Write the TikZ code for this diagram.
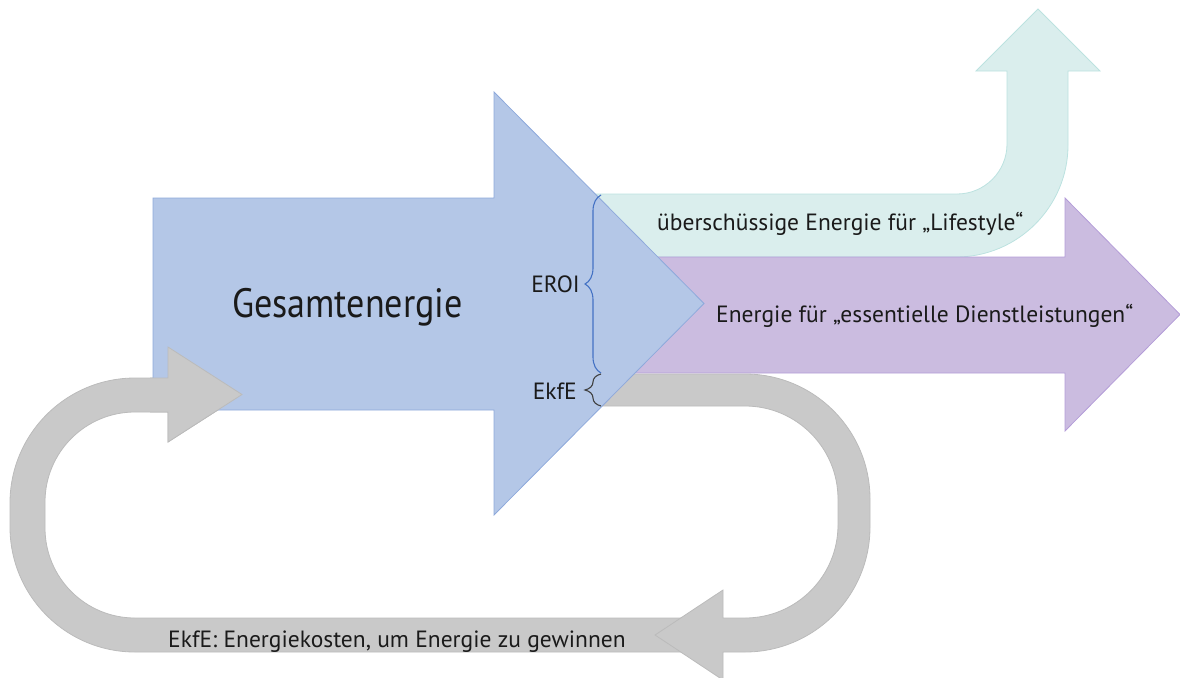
\documentclass[tikz,border=0pt]{standalone}
\usepackage{fontspec}
\setmainfont{PT Sans}
\newfontfamily\titlefont[FakeStretch=0.88]{PT Sans}
\usetikzlibrary{decorations.pathreplacing}
\definecolor{bluefill}{HTML}{B4C7E7}
\definecolor{bluedraw}{HTML}{8EA9DB}
\definecolor{tealfill}{HTML}{DAEEED}
\definecolor{tealdraw}{HTML}{BCE2E0}
\definecolor{purpfill}{HTML}{CBBCE0}
\definecolor{purpdraw}{HTML}{B49DD8}
\definecolor{grayfill}{HTML}{C9C9C9}
\definecolor{graydraw}{HTML}{BBBBBB}
\definecolor{braceblue}{HTML}{4472C4}
\definecolor{bracegray}{HTML}{404040}
\definecolor{txt}{HTML}{1A1A1A}
\tikzset{
  bluearrow/.style={fill=bluefill, draw=bluedraw, line width=0.8pt, line join=miter},
  tealarrow/.style={fill=tealfill, draw=tealdraw, line width=0.8pt},
  purparrow/.style={fill=purpfill, draw=purpdraw, line width=0.8pt},
  grayarrow/.style={fill=grayfill, draw=graydraw, line width=0.8pt},
  lbl/.style={text=txt, font=\fontsize{23.5}{26}\selectfont, inner sep=0pt},
  bracestyle/.style={decorate, decoration={brace, amplitude=16pt}, line width=1.1pt}
}
\begin{document}
\begin{tikzpicture}[x=1pt, y=-1pt]
\useasboundingbox (0,0) rectangle (1180,677);
% teal arrow (Lifestyle)
\draw[tealarrow] (560,194) -- (957,194) .. controls (984.6,194) and (1007,171.6) .. (1007,144)
  -- (1007,71) -- (976,71) -- (1038,9) -- (1100,71) -- (1068,71) -- (1068,145)
  .. controls (1068,206.8) and (1017.8,257) .. (956,257) -- (560,257) -- cycle;
% purple arrow
\draw[purparrow] (560,257) -- (1065,257) -- (1065,198) -- (1180,314.5) -- (1065,431) -- (1065,373) -- (560,373) -- cycle;
% gray left loop (back to Gesamtenergie)
\draw[grayarrow] (700,652) -- (135,652) .. controls (66,652) and (10,596) .. (10,527)
  -- (10,503) .. controls (10,434) and (66,378) .. (135,378) -- (168,378) -- (168,347)
  -- (242,394.5) -- (168,442) -- (168,412) -- (135,412)
  .. controls (85.3,412) and (45,452.3) .. (45,502) -- (45,528)
  .. controls (45,577.7) and (85.3,618) .. (135,618) -- (700,618) -- cycle;
% gray right loop (EkfE)
\draw[grayarrow] (560,374) -- (745,374) .. controls (814,374) and (870,430) .. (870,499)
  -- (870,527) .. controls (870,596) and (814,652) .. (745,652) -- (723,652) -- (723,680)
  -- (655,635) -- (723,590) -- (723,618) -- (745,618)
  .. controls (796.3,618) and (838,576.3) .. (838,525) -- (838,499)
  .. controls (838,447.7) and (796.3,406) .. (745,406) -- (560,406) -- cycle;
% blue main arrow
\draw[bluearrow] (153,198) -- (494,198) -- (494,92) -- (704,303.5) -- (494,515) -- (494,410) -- (153,410) -- cycle;
% gray arrow head over blue
\fill[grayfill] (150,378) -- (168,378) -- (168,347) -- (242,394.5) -- (168,442) -- (168,412) -- (150,412) -- cycle;
\draw[graydraw, line width=0.8pt] (150,378) -- (168,378) -- (168,347) -- (242,394.5) -- (168,442) -- (168,412) -- (150,412);
% braces
\coordinate (eroiTop) at (601,195);
\coordinate (eroiBot) at (601,373);
\coordinate (ekfeTop) at (601,374);
\coordinate (ekfeBot) at (601,406);
\draw[bracestyle, draw=braceblue] (eroiBot) -- (eroiTop);
\draw[bracestyle, draw=bracegray] (ekfeBot) -- (ekfeTop);
% texts
\node[text=txt, font=\titlefont\fontsize{41}{46}\selectfont, inner sep=0pt, anchor=base] (ges) at (347.5,317) {Gesamtenergie};
\node[lbl, anchor=base west] (life) at (657,230) {überschüssige Energie für „Lifestyle“};
\node[lbl, anchor=base west] (ess) at (716,322) {Energie für „essentielle Dienstleistungen“};
\node[lbl, anchor=base west] (cost) at (168,647) {EkfE: Energiekosten, um Energie zu gewinnen};
\node[lbl, anchor=base east] (eroi) at (580,292) {EROI};
\node[lbl, anchor=base east] (ekfe) at (577,399) {EkfE};
\end{tikzpicture}
\end{document}
